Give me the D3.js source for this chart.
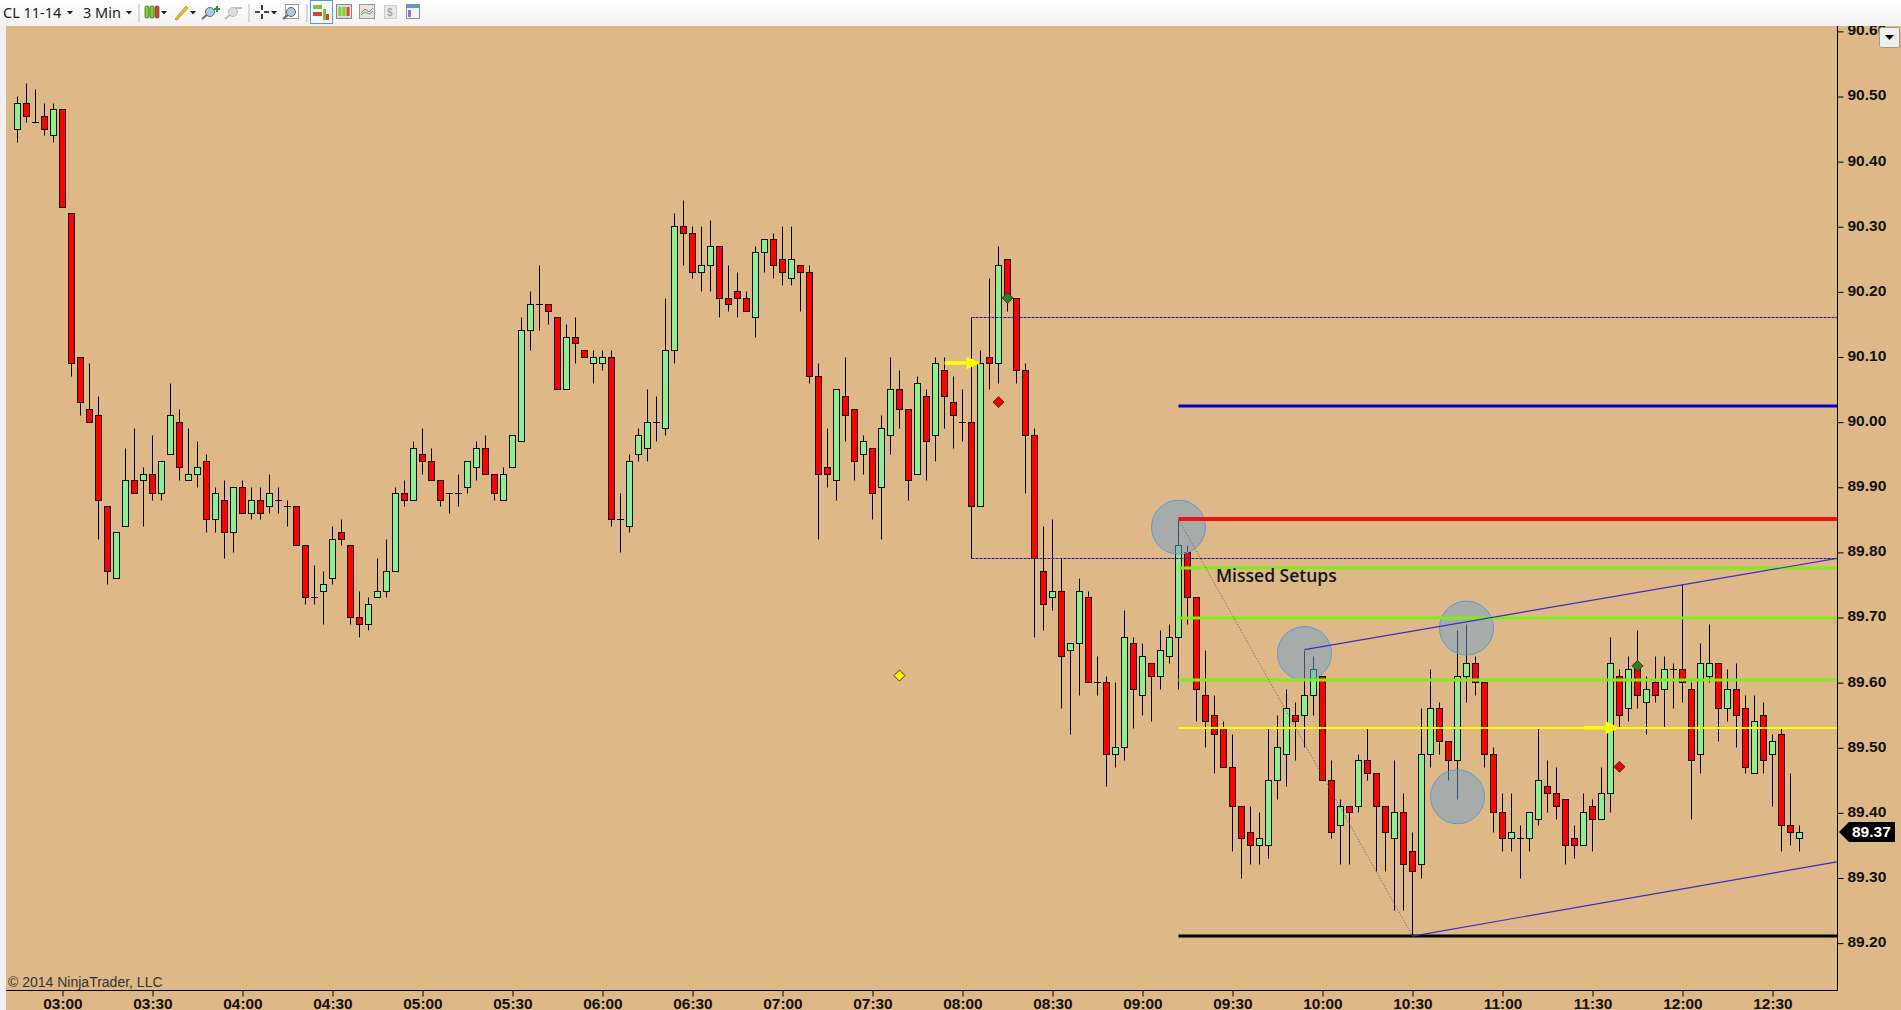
<!DOCTYPE html>
<html>
<head>
<meta charset="utf-8">
<title>CL 11-14 3 Min</title>
<script src="https://cdn.jsdelivr.net/npm/d3@7"></script>
<style>
  html, body { margin: 0; padding: 0; background: #f0f0f0; overflow: hidden; }
  text { font-family: "Liberation Sans", Arial, sans-serif; }
</style>
</head>
<body>
<div id="chart"></div>
<script>
// 3 minute bars, first bar is 02:45
const opens = [
  90.45,90.49,90.46,90.47,90.44,90.48,90.32,90.10,90.02,90.01,
  89.87,89.76,89.84,89.91,89.91,89.92,89.89,89.95,90.00,89.91,
  89.92,89.94,89.85,89.88,89.83,89.90,89.86,89.88,89.87,89.88,
  89.87,89.87,89.81,89.73,89.74,89.76,89.83,89.81,89.70,89.69,
  89.73,89.74,89.77,89.89,89.88,89.95,89.94,89.91,89.89,89.89,
  89.90,89.93,89.96,89.92,89.88,89.93,89.97,90.14,90.18,90.18,
  90.16,90.05,90.13,90.11,90.09,90.09,90.10,89.85,89.84,89.95,
  89.96,90.00,89.99,90.11,90.30,90.29,90.23,90.24,90.27,90.19,
  90.20,90.19,90.16,90.26,90.28,90.25,90.22,90.24,90.23,90.07,
  89.93,89.91,90.04,90.02,89.95,89.96,89.90,89.98,90.05,90.02,
  89.92,90.04,89.98,90.08,90.03,90.00,90.00,89.87,90.10,90.09,
  90.25,90.19,90.08,89.98,89.77,89.73,89.74,89.65,89.66,89.73,
  89.60,89.60,89.49,89.50,89.66,89.58,89.63,89.61,89.64,89.67,
  89.80,89.73,89.58,89.55,89.53,89.47,89.41,89.37,89.35,89.35,
  89.45,89.49,89.55,89.55,89.58,89.61,89.45,89.38,89.41,89.41,
  89.48,89.46,89.41,89.36,89.40,89.34,89.32,89.49,89.56,89.51,
  89.48,89.61,89.63,89.60,89.49,89.40,89.36,89.36,89.36,89.39,
  89.44,89.43,89.42,89.36,89.35,89.41,89.39,89.43,89.61,89.56,
  89.62,89.57,89.60,89.59,89.62,89.62,89.59,89.49,89.61,89.63,
  89.56,89.59,89.56,89.46,89.55,89.49,89.52,89.38,89.36
]
const highs = [
  90.50,90.52,90.51,90.49,90.49,90.48,90.32,90.10,90.09,90.04,
  89.87,89.83,89.96,89.99,89.93,89.98,89.94,90.06,90.02,89.99,
  89.97,89.95,89.90,89.91,89.90,89.91,89.90,89.90,89.92,89.90,
  89.88,89.87,89.81,89.78,89.77,89.84,89.85,89.81,89.74,89.73,
  89.79,89.82,89.90,89.91,89.97,89.99,89.96,89.91,89.89,89.92,
  89.94,89.97,89.98,89.92,89.93,89.98,90.16,90.20,90.24,90.18,
  90.16,90.15,90.16,90.11,90.11,90.11,90.11,89.89,89.95,89.99,
  90.05,90.04,90.19,90.32,90.34,90.30,90.30,90.31,90.27,90.24,
  90.23,90.20,90.27,90.28,90.29,90.30,90.30,90.24,90.24,90.09,
  89.99,90.05,90.10,90.02,89.98,89.96,90.01,90.10,90.08,90.02,
  90.07,90.05,90.10,90.10,90.07,90.05,90.16,90.11,90.22,90.27,
  90.25,90.19,90.09,89.99,89.84,89.85,89.79,89.66,89.76,89.74,
  89.64,89.61,89.60,89.71,89.67,89.66,89.63,89.68,89.69,89.85,
  89.81,89.73,89.65,89.58,89.54,89.52,89.41,89.41,89.40,89.53,
  89.55,89.59,89.57,89.65,89.64,89.61,89.48,89.42,89.41,89.49,
  89.53,89.46,89.41,89.48,89.43,89.37,89.56,89.62,89.57,89.51,
  89.68,89.69,89.64,89.60,89.50,89.43,89.43,89.38,89.40,89.53,
  89.48,89.47,89.42,89.38,89.43,89.42,89.47,89.67,89.62,89.64,
  89.68,89.61,89.64,89.64,89.63,89.75,89.60,89.66,89.69,89.63,
  89.62,89.63,89.58,89.58,89.57,89.52,89.53,89.46,89.38
]
const lows = [
  90.43,90.46,90.46,90.44,90.43,90.33,90.07,90.01,90.00,89.82,
  89.75,89.76,89.84,89.89,89.84,89.88,89.88,89.95,89.91,89.91,
  89.90,89.83,89.83,89.79,89.80,89.86,89.85,89.85,89.86,89.86,
  89.84,89.81,89.72,89.72,89.69,89.75,89.81,89.69,89.67,89.68,
  89.73,89.73,89.77,89.87,89.88,89.92,89.91,89.87,89.86,89.87,
  89.89,89.91,89.92,89.88,89.88,89.93,89.97,90.11,90.14,90.15,
  90.05,90.05,90.09,90.10,90.06,90.08,89.84,89.80,89.83,89.94,
  89.94,89.97,89.98,90.09,90.24,90.22,90.20,90.20,90.16,90.17,
  90.16,90.17,90.13,90.23,90.22,90.21,90.21,90.17,90.06,89.82,
  89.90,89.88,89.97,89.91,89.92,89.85,89.82,89.95,89.99,89.88,
  89.92,89.91,89.94,89.99,89.96,89.97,89.79,89.87,90.05,90.06,
  90.17,90.06,89.89,89.67,89.68,89.71,89.56,89.52,89.58,89.60,
  89.58,89.44,89.47,89.48,89.53,89.55,89.54,89.59,89.63,89.59,
  89.69,89.54,89.50,89.46,89.47,89.34,89.30,89.32,89.32,89.33,
  89.42,89.44,89.48,89.50,89.55,89.45,89.36,89.32,89.32,89.40,
  89.45,89.31,89.31,89.25,89.25,89.21,89.30,89.47,89.49,89.45,
  89.42,89.57,89.58,89.47,89.37,89.34,89.34,89.30,89.34,89.38,
  89.40,89.39,89.32,89.33,89.35,89.34,89.39,89.40,89.53,89.54,
  89.56,89.52,89.57,89.53,89.56,89.57,89.39,89.46,89.60,89.51,
  89.54,89.50,89.46,89.46,89.46,89.41,89.34,89.35,89.34
]
const closes = [
  90.49,90.47,90.46,90.45,90.48,90.33,90.09,90.03,90.00,89.88,
  89.77,89.83,89.91,89.89,89.92,89.89,89.94,90.01,89.93,89.92,
  89.93,89.85,89.89,89.83,89.90,89.86,89.88,89.86,89.89,89.88,
  89.87,89.81,89.73,89.73,89.75,89.82,89.82,89.70,89.69,89.72,
  89.74,89.77,89.89,89.88,89.96,89.94,89.91,89.88,89.89,89.89,
  89.94,89.96,89.92,89.89,89.92,89.98,90.14,90.18,90.18,90.17,
  90.05,90.13,90.12,90.10,90.10,90.10,89.85,89.85,89.94,89.98,
  90.00,90.00,90.11,90.30,90.29,90.23,90.24,90.27,90.19,90.18,
  90.19,90.17,90.26,90.28,90.24,90.23,90.25,90.23,90.07,89.92,
  89.92,90.05,90.01,89.94,89.97,89.89,89.99,90.05,90.02,89.91,
  90.06,89.97,90.09,90.04,90.01,90.00,89.87,90.09,90.09,90.24,
  90.19,90.08,89.98,89.79,89.72,89.74,89.64,89.66,89.74,89.60,
  89.60,89.49,89.50,89.67,89.59,89.64,89.61,89.65,89.67,89.81,
  89.73,89.59,89.54,89.52,89.47,89.41,89.36,89.35,89.36,89.45,
  89.50,89.56,89.54,89.58,89.62,89.45,89.37,89.41,89.40,89.48,
  89.46,89.41,89.37,89.40,89.32,89.31,89.49,89.56,89.51,89.48,
  89.61,89.63,89.60,89.49,89.40,89.36,89.37,89.36,89.40,89.45,
  89.43,89.41,89.35,89.35,89.40,89.39,89.43,89.63,89.55,89.62,
  89.58,89.59,89.58,89.62,89.62,89.60,89.48,89.63,89.63,89.56,
  89.59,89.55,89.47,89.54,89.48,89.51,89.38,89.37,89.37
]

const timeLabels = ['03:00','03:30','04:00','04:30','05:00','05:30','06:00','06:30','07:00','07:30',
  '08:00','08:30','09:00','09:30','10:00','10:30','11:00','11:30','12:00','12:30']
const priceTicks = [89.2,89.3,89.4,89.5,89.6,89.7,89.8,89.9,90.0,90.1,90.2,90.3,90.4,90.5,90.6]
const lastPrice = 89.37

// drawn objects on the chart, anchored by bar index and price
const levelPrices = [90.024, 89.85, 89.775, 89.698, 89.604, 89.53, 89.21]
const levelColors = ['#0000cd', '#f01010', '#84ea1e', '#84ea1e', '#84ea1e', '#ffff00', '#000000']
const levelWidths = [3, 4, 3, 3, 3, 2, 3]
const boxPrices = [90.16, 89.79]
const circleBars = [129, 143, 161, 160]
const circlePrices = [89.838, 89.644, 89.683, 89.424]
const arrowBars = [107, 178]
const arrowPrices = [90.09, 89.53]
const diamondBars = [110, 109, 180, 178, 98]
const diamondPrices = [90.19, 90.03, 89.625, 89.47, 89.61]
const diamondColors = ['#2e7d2e', '#f00000', '#2e7d2e', '#f00000', '#ffff00']

const width = 1901
const height = 1010
const plotLeft = 6
const plotRight = 1837
const plotTop = 26
const plotBottom = 990

const x = d3.scaleLinear().domain([0, 198]).range([17.5, 1799.5])
const y = d3.scaleLinear().domain([89.3, 90.5]).range([877.5, 96])
const py = p => Math.round(y(p)) + 0.5

const svg = d3.select('#chart').append('svg')
  .attr('width', width)
  .attr('height', height)
  .style('display', 'block')

svg.append('rect').attr('width', width).attr('height', height).attr('fill', '#f0f0f0')
svg.append('rect')
  .attr('x', plotLeft).attr('y', plotTop)
  .attr('width', width - plotLeft).attr('height', height - plotTop)
  .attr('fill', '#deb887')

// Candles
const bars = d3.range(opens.length)
const candles = svg.append('g').attr('class', 'candles')

candles.selectAll('.wick')
  .data(bars)
  .enter()
  .append('line')
  .attr('class', 'wick')
  .attr('x1', i => x(i)).attr('x2', i => x(i))
  .attr('y1', i => py(highs[i])).attr('y2', i => py(lows[i]))
  .attr('stroke', '#000')
  .attr('stroke-width', 1)

candles.selectAll('.body')
  .data(bars.filter(i => opens[i] !== closes[i]))
  .enter()
  .append('rect')
  .attr('class', 'body')
  .attr('x', i => x(i) - 3)
  .attr('width', 6)
  .attr('y', i => py(Math.max(opens[i], closes[i])))
  .attr('height', i => py(Math.min(opens[i], closes[i])) - py(Math.max(opens[i], closes[i])))
  .attr('fill', i => (closes[i] > opens[i] ? '#90ee90' : '#ff0000'))
  .attr('stroke', '#111')
  .attr('stroke-width', 1)

candles.selectAll('.doji')
  .data(bars.filter(i => opens[i] === closes[i]))
  .enter()
  .append('line')
  .attr('class', 'doji')
  .attr('x1', i => x(i) - 3.5).attr('x2', i => x(i) + 3.5)
  .attr('y1', i => py(opens[i])).attr('y2', i => py(opens[i]))
  .attr('stroke', '#000')

// Range box from the 08:03 bar
const drawn = svg.append('g').attr('class', 'drawn')
drawn.selectAll('.box')
  .data(boxPrices)
  .enter()
  .append('line')
  .attr('class', 'box')
  .attr('x1', x(106)).attr('x2', plotRight)
  .attr('y1', d => py(d)).attr('y2', d => py(d))
  .attr('stroke', '#1c1ca8')
  .attr('stroke-width', 1)
  .attr('stroke-dasharray', '3,1')

// Circles around the missed setups
drawn.selectAll('.setup')
  .data(circleBars)
  .enter()
  .append('circle')
  .attr('class', 'setup')
  .attr('cx', d => x(d))
  .attr('cy', (d, i) => y(circlePrices[i]))
  .attr('r', 27)
  .attr('fill', '#6ca0cd')
  .attr('fill-opacity', 0.5)
  .attr('stroke', '#5b9bd5')
  .attr('stroke-width', 1)

// Fib levels
drawn.selectAll('.level')
  .data(levelPrices)
  .enter()
  .append('line')
  .attr('class', 'level')
  .attr('x1', x(129)).attr('x2', plotRight)
  .attr('y1', d => Math.round(y(d))).attr('y2', d => Math.round(y(d)))
  .attr('stroke', (d, i) => levelColors[i])
  .attr('stroke-width', (d, i) => levelWidths[i])

// Swing line and channel
drawn.append('line')
  .attr('x1', x(129)).attr('y1', y(89.85))
  .attr('x2', x(155)).attr('y2', y(89.21))
  .attr('stroke', '#666')
  .attr('stroke-width', 0.8)
  .attr('stroke-dasharray', '1.5,1.5')

drawn.append('line')
  .attr('x1', x(143)).attr('y1', y(89.65))
  .attr('x2', plotRight).attr('y2', y(89.79))
  .attr('stroke', '#3a2fc0')
  .attr('stroke-width', 1.2)

drawn.append('line')
  .attr('x1', x(155)).attr('y1', y(89.21))
  .attr('x2', plotRight).attr('y2', y(89.324))
  .attr('stroke', '#3a2fc0')
  .attr('stroke-width', 1.2)

// Entry arrows
const arrows = drawn.selectAll('.arrow')
  .data(arrowBars)
  .enter()
  .append('g')
  .attr('class', 'arrow')
  .attr('transform', (d, i) => `translate(${x(d)},${y(arrowPrices[i])})`)
arrows.append('path')
  .attr('d', 'M-36,-1.7H-14V-6.5L0,0L-14,6.5V1.7H-36Z')
  .attr('fill', '#ffff00')

// Trade markers
drawn.selectAll('.diamond')
  .data(diamondBars)
  .enter()
  .append('path')
  .attr('class', 'diamond')
  .attr('d', 'M0,-5.5L5.5,0L0,5.5L-5.5,0Z')
  .attr('transform', (d, i) => `translate(${x(d)},${y(diamondPrices[i])})`)
  .attr('fill', (d, i) => diamondColors[i])
  .attr('stroke', '#4a3010')
  .attr('stroke-width', 1)

svg.append('text')
  .attr('x', 1216)
  .attr('y', 582)
  .style('font-family', '"Open Sans"')
  .style('font-weight', 600)
  .style('font-size', '17.5px')
  .attr('fill', '#151515')
  .text('Missed Setups')

svg.append('text')
  .attr('x', 8)
  .attr('y', 987)
  .style('font-size', '14px')
  .attr('fill', '#333')
  .text('© 2014 NinjaTrader, LLC')

// Axes
const yAxis = d3.axisRight(y)
  .tickValues(priceTicks)
  .tickFormat(d3.format('.2f'))
  .tickSize(6)
  .tickPadding(4)

const yAxisG = svg.append('g')
  .attr('transform', `translate(${plotRight + 0.5},0.5)`)
  .call(yAxis)
yAxisG.select('.domain').remove()
yAxisG.selectAll('text')
  .attr('dy', '0.22em')
  .style('font-family', '"Liberation Sans"')
  .style('font-size', '15.5px')
  .style('font-weight', 'bold')
  .attr('fill', '#111')

const xAxis = d3.axisBottom(x)
  .tickValues(timeLabels.map((d, i) => 5 + i * 10))
  .tickFormat((d, i) => timeLabels[i])
  .tickSize(6)
  .tickPadding(1.5)

const xAxisG = svg.append('g')
  .attr('transform', `translate(0,${plotBottom + 0.5})`)
  .call(xAxis)
xAxisG.select('.domain').remove()
xAxisG.selectAll('text')
  .style('font-family', '"Liberation Sans"')
  .style('font-size', '15.4px')
  .style('font-weight', 'bold')
  .attr('fill', '#111')

svg.append('line')
  .attr('x1', plotRight + 0.5).attr('x2', plotRight + 0.5)
  .attr('y1', plotTop).attr('y2', plotBottom + 0.5)
  .attr('stroke', '#000')
svg.append('line')
  .attr('x1', plotLeft).attr('x2', plotRight + 0.5)
  .attr('y1', plotBottom + 0.5).attr('y2', plotBottom + 0.5)
  .attr('stroke', '#000')

// Last price flag
const flag = svg.append('g').attr('transform', `translate(${plotRight + 2},${y(lastPrice)})`)
flag.append('path')
  .attr('d', 'M0,0L10,-10H56V10H10Z')
  .attr('fill', '#000')
flag.append('text')
  .attr('x', 13)
  .attr('y', 5.5)
  .style('font-size', '15.5px')
  .style('font-weight', 'bold')
  .attr('fill', '#fff')
  .text(d3.format('.2f')(lastPrice))

// Toolbar
const defs = svg.append('defs')
const barGrad = defs.append('linearGradient')
  .attr('id', 'toolbarGrad')
  .attr('x1', 0).attr('y1', 0).attr('x2', 0).attr('y2', 1)
barGrad.append('stop').attr('offset', '0%').attr('stop-color', '#ffffff')
barGrad.append('stop').attr('offset', '100%').attr('stop-color', '#f2f2f2')

const toolbar = svg.append('g').attr('class', 'toolbar')
toolbar.append('rect').attr('width', width).attr('height', plotTop).attr('fill', 'url(#toolbarGrad)')

const label = (txt, lx) => toolbar.append('text')
  .attr('x', lx).attr('y', 18)
  .style('font-family', '"Noto Sans"')
  .style('font-size', '14.5px')
  .attr('fill', '#222')
  .text(txt)
label('CL 11-14', 3)
label('3 Min', 83)

const caret = cx => toolbar.append('path')
  .attr('d', `M${cx - 3},11H${cx + 3}L${cx},14.5Z`)
  .attr('fill', '#222')
;[70, 129, 164, 193, 274].forEach(caret)

const sep = sx => toolbar.append('line')
  .attr('x1', sx).attr('x2', sx).attr('y1', 4).attr('y2', 22)
  .attr('stroke', '#bbb')
;[139, 249, 307].forEach(sep)

// candle icon
;[[147, '#7ed321'], [152, '#7ed321'], [157, '#d9432f']].forEach(d => {
  toolbar.append('rect').attr('x', d[0] - 2).attr('y', 6).attr('width', 4).attr('height', 12)
    .attr('rx', 1.5).attr('fill', d[1]).attr('stroke', '#333').attr('stroke-width', 0.6)
})

// pencil icon
toolbar.append('path').attr('d', 'M175,19L186,6L188,8L177,20Z')
  .attr('fill', '#f0c020').attr('stroke', '#a07820').attr('stroke-width', 0.7)

// zoom in, zoom out, magnifier box
const lens = (cx, cy, stroke, fill) => {
  toolbar.append('line').attr('x1', cx - 8).attr('y1', cy + 7).attr('x2', cx - 2).attr('y2', cy + 2)
    .attr('stroke', stroke).attr('stroke-width', 2)
  toolbar.append('circle').attr('cx', cx).attr('cy', cy).attr('r', 4.5)
    .attr('fill', fill).attr('stroke', stroke).attr('stroke-width', 1)
}
lens(210, 12, '#667', '#a8cdea')
toolbar.append('path').attr('d', 'M214,8H216V6H218V8H220V10H218V12H216V10H214Z').attr('fill', '#2a9d3a')
lens(233, 12, '#bbb', '#ddd')
toolbar.append('rect').attr('x', 235).attr('y', 7).attr('width', 7).attr('height', 2).attr('fill', '#bbb')
toolbar.append('rect').attr('x', 285.5).attr('y', 4.5).attr('width', 13).attr('height', 14)
  .attr('fill', '#fff').attr('stroke', '#999')
lens(291, 12, '#667', '#a8cdea')

// crosshair
toolbar.append('path').attr('d', 'M255,12H260M264,12H269M262,5V10M262,14V19')
  .attr('stroke', '#111').attr('stroke-width', 1.6).attr('fill', 'none')

// active and plain panel buttons
toolbar.append('rect').attr('x', 310.5).attr('y', 0.5).attr('width', 22).attr('height', 23)
  .attr('fill', '#f6fafd').attr('stroke', '#5b9bd5')
toolbar.append('rect').attr('x', 313).attr('y', 5).attr('width', 9).attr('height', 4).attr('fill', '#7ec23a')
toolbar.append('rect').attr('x', 313).attr('y', 12).attr('width', 9).attr('height', 4).attr('fill', '#d9432f')
toolbar.append('rect').attr('x', 323).attr('y', 9).attr('width', 3).attr('height', 11).attr('fill', '#7ec23a')
toolbar.append('rect').attr('x', 326).attr('y', 14).attr('width', 3).attr('height', 6).attr('fill', '#d9432f')
toolbar.append('rect').attr('x', 336.5).attr('y', 4.5).attr('width', 15).attr('height', 14)
  .attr('fill', '#ddd').attr('stroke', '#888')
;[[340, '#7ed321'], [344, '#7ed321'], [348, '#d9432f']].forEach(d => {
  toolbar.append('rect').attr('x', d[0] - 1.5).attr('y', 7).attr('width', 3).attr('height', 9).attr('fill', d[1])
})
toolbar.append('rect').attr('x', 359.5).attr('y', 4.5).attr('width', 15).attr('height', 14)
  .attr('fill', '#e4e4e4').attr('stroke', '#999')
toolbar.append('path').attr('d', 'M361,13L365,9L369,12L373,8').attr('fill', 'none').attr('stroke', '#c66')
toolbar.append('path').attr('d', 'M361,15L365,12L369,14L373,11').attr('fill', 'none').attr('stroke', '#6a6')
toolbar.append('rect').attr('x', 384.5).attr('y', 5.5).attr('width', 12).attr('height', 13)
  .attr('fill', '#e8e8e8').attr('stroke', '#ccc')
toolbar.append('text').attr('x', 387).attr('y', 16).style('font-size', '10px')
  .style('font-weight', 'bold').attr('fill', '#aaa').text('$')
toolbar.append('rect').attr('x', 406.5).attr('y', 4.5).attr('width', 13).attr('height', 14)
  .attr('fill', '#f4f4f4').attr('stroke', '#8a8aa8')
toolbar.append('rect').attr('x', 407).attr('y', 5).attr('width', 12).attr('height', 3).attr('fill', '#5b9bd5')
toolbar.append('rect').attr('x', 408).attr('y', 10).attr('width', 3).attr('height', 7).attr('fill', '#9a70d0')

// Scale menu button at the top right
svg.append('rect')
  .attr('x', 1879.5).attr('y', 27.5).attr('width', 20).attr('height', 20).attr('rx', 2)
  .attr('fill', '#f0f0f0').attr('stroke', '#999')
svg.append('path').attr('d', 'M1885,35H1894L1889.5,40Z').attr('fill', '#000')
</script>
</body>
</html>
